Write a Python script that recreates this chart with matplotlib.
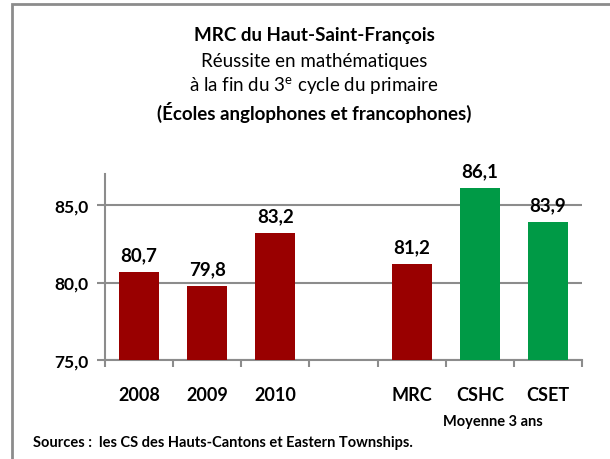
import matplotlib
matplotlib.use("Agg")
from matplotlib import pyplot as plt
import matplotlib.patches as mpatches
import numpy as np

# data
categories = ["2008", "2009", "2010", "", "MRC", "CSHC", "CSET"]
values = [80.7, 79.8, 83.2, None, 81.2, 86.1, 83.9]
labels = ["80,7", "79,8", "83,2", "", "81,2", "86,1", "83,9"]
bar_colors = ["#990000", "#990000", "#990000", "none", "#990000", "#009A46", "#009A46"]
yticks = [75, 80, 85]
ytick_labels = ["75,0", "80,0", "85,0"]

plt.rcParams['font.family'] = ['Lato', 'DejaVu Sans']

fig = plt.figure(figsize=(6.1, 4.6), dpi=100)
ax = fig.add_axes([105/610, 1 - 361/460, 477/610, 186/460])

# grey frame (only top and left visible in the picture)
frame = mpatches.Rectangle((12/610, -0.1), 1.2, 1 - 5/460 + 0.1, transform=fig.transFigure,
                           fill=False, edgecolor="#8c8c8c", linewidth=2, zorder=0)
fig.patches.append(frame)

x = np.arange(len(categories))
for i, v in enumerate(values):
    if v is None:
        continue
    ax.bar(x[i] + 0.5, v - 75, bottom=75, width=0.59, color=bar_colors[i], zorder=3)
    ax.text(x[i] + 0.5, v + 0.55, labels[i], ha="center", va="bottom",
            fontsize=13.5, fontweight="bold")

ax.set_xlim(0, len(categories))
ax.set_ylim(75, 87)
ax.set_yticks(yticks)
ax.set_yticklabels(ytick_labels, fontsize=12.5, fontweight="bold")
ax.set_xticks(np.arange(len(categories) + 1))
ax.set_xticklabels([])
ax.set_xticks(x + 0.5, minor=True)
ax.set_xticklabels(categories, minor=True, fontsize=13, fontweight="bold")
ax.tick_params(axis="x", which="minor", length=0, pad=19)
ax.tick_params(axis="x", which="major", length=5, width=1.5, color="#8c8c8c", direction="out")
ax.tick_params(axis="y", length=6, width=1.5, color="#8c8c8c", direction="out", pad=6)

ax.grid(axis="y", color="#8c8c8c", linewidth=1.5, zorder=0)
for s in ["top", "right"]:
    ax.spines[s].set_visible(False)
for s in ["left", "bottom"]:
    ax.spines[s].set_color("#8c8c8c")
    ax.spines[s].set_linewidth(1.5)

# titles
tx = 314/610
fig.text(tx, 1 - 35/460, "MRC du Haut-Saint-François", ha="center", va="center",
         fontsize=13.5, fontweight="bold")
fig.text(tx, 1 - 61/460, "Réussite en mathématiques", ha="center", va="center", fontsize=13.5)
fig.text(tx, 1 - 86/460, "à la fin du 3$^\\mathregular{e}$ cycle du primaire", ha="center",
         va="center", fontsize=13.5)
fig.text(tx, 1 - 112/460, "(Écoles anglophones et francophones)", ha="center", va="center",
         fontsize=13.5, fontweight="bold")

fig.text(493/610, 1 - 422/460, "Moyenne 3 ans", ha="center", va="center", fontsize=10.5, fontweight="bold")
fig.text(33/610, 1 - 443/460, "Sources :  les CS des Hauts-Cantons et Eastern Townships.", ha="left",
         va="center", fontsize=10.5, fontweight="bold")

fig.savefig("out.png", dpi=100)
